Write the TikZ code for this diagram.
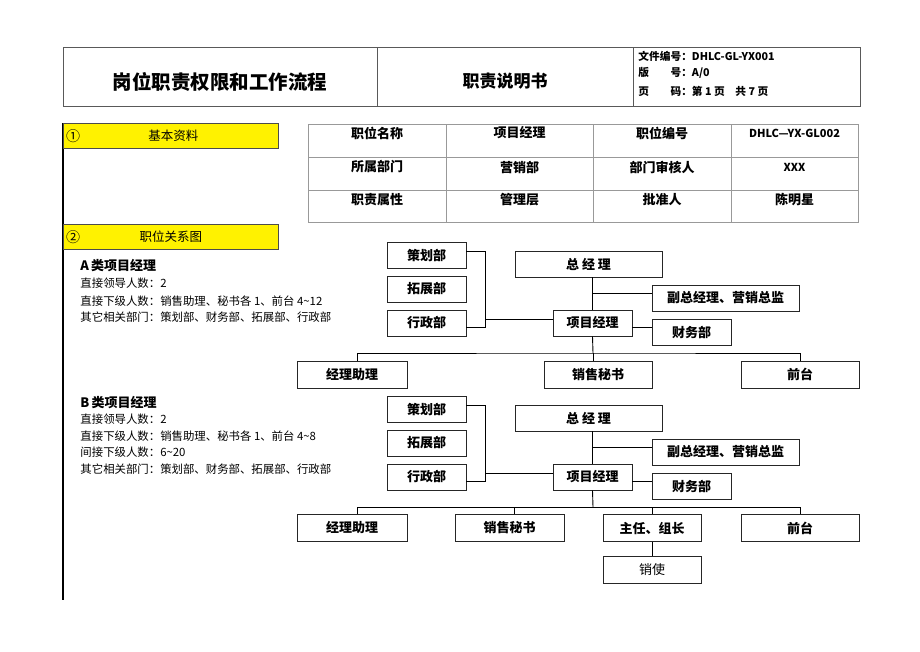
\documentclass[tikz,border=0pt]{standalone}
\usepackage{fontspec}
\setmainfont{Noto Sans CJK SC}
\newcommand\colorFrame{black!65}
\newcommand\colorGrid{black!40}
\newcommand\colorBox{black!85}
\newcommand\colorBar{yellow}
\newcommand\drawUpper[2]{
	\begin{scope}[shift={(0,#2)}]
		\node[orgbox, minimum width=79pt] (ce#1) at (426.5,255) {策划部};
		\node[orgbox, minimum width=79pt] (tz#1) at (426.5,289) {拓展部};
		\node[orgbox, minimum width=79pt] (xz#1) at (426.5,323) {行政部};
		\node[orgbox, minimum width=147pt] (zjl#1) at (588.5,264) {总 经 理};
		\node[orgbox, minimum width=147pt] (fz#1) at (725.5,298) {副总经理、营销总监};
		\node[orgbox, minimum width=79pt] (xm#1) at (592.5,323) {项目经理};
		\node[orgbox, minimum width=79pt] (cw#1) at (691.5,332) {财务部};
		\coordinate (j#1) at (485,319);
		\coordinate (bus#1) at (593,353);
		\draw ([yshift=4pt]ce#1.east) -| ([yshift=-8pt]j#1) -- ([yshift=-4pt]xz#1.east);
		\draw (j#1) -- (j#1 -| xm#1.west);
		\draw (xm#1.north) -- (xm#1.north |- zjl#1.south);
		\coordinate (f#1) at ([yshift=5pt]fz#1.west);
		\draw (f#1) -- (f#1 -| xm#1.north);
		\coordinate (k#1) at ([yshift=-4pt]xm#1.east);
		\draw (k#1) -- (k#1 -| cw#1.west);
		\draw (xm#1.south) -- (bus#1);
	\end{scope}
}
\tikzset{
	orgbox/.style={draw=\colorBox, minimum height=26pt, inner sep=0pt, font=\fontsize{13}{15}\selectfont\bfseries},
	lowbox/.style={orgbox, minimum height=27pt},
	bar/.style={draw=black!70, fill=\colorBar, minimum width=215pt, minimum height=25pt, inner sep=0pt, font=\fontsize{12.5}{14}\selectfont},
	cell/.style={inner sep=0pt, font=\fontsize{13}{15}\selectfont\bfseries},
	meta/.style={anchor=west, inner sep=0pt, font=\fontsize{10.7}{12}\selectfont\bfseries},
	head/.style={anchor=west, inner sep=0pt, font=\fontsize{13}{15}\selectfont\bfseries},
	info/.style={anchor=west, inner sep=0pt, font=\fontsize{11.4}{13}\selectfont}
}
\begin{document}
\begin{tikzpicture}[x=1pt, y=-1pt, line width=0.9pt]
	\useasboundingbox (0,0) rectangle (920,651);

	\draw[color=\colorFrame] (63,47) rectangle (860,106);
	\draw[color=\colorFrame] (377,47) to (377,106);
	\draw[color=\colorFrame] (633,47) to (633,106);
	\node[font=\fontsize{19.5}{22}\selectfont\bfseries] (title) at (220,82) {岗位职责权限和工作流程};
	\node[font=\fontsize{17}{20}\selectfont\bfseries] (doc) at (505,81) {职责说明书};
	\foreach \i/\y/\t in {1/56/{文件编号：DHLC-GL-YX001}, 2/73/{版　　号：A/0}, 3/91/{页　　码：第 1 页　共 7 页}}{
		\node[meta] (meta\i) at (638,\y) {\t};
	}

	\draw[line width=2.2pt] (63,123) to (63,600);
	\node[bar, anchor=north west] (bar1) at (63,123) {\hspace*{5pt}基本资料};
	\node[bar, anchor=north west] (bar2) at (63,224) {职位关系图};
	\node[font=\fontsize{14}{15}\selectfont] (no1) at (bar1.west -| 73,0) {①};
	\node[font=\fontsize{14}{15}\selectfont] (no2) at (bar2.west -| 73,0) {②};

	\draw[color=\colorGrid] (308,124) rectangle (858,222);
	\foreach \x in {446,593,731}
		\draw[color=\colorGrid] (\x,124) to (\x,222);
	\foreach \y in {157,190}
		\draw[color=\colorGrid] (308,\y) to (858,\y);
	\foreach \r/\y/\a/\b/\c/\d in {1/133/职位名称/项目经理/职位编号/{\fontsize{11}{13}\selectfont DHLC—YX-GL002}, 2/167/所属部门/营销部/部门审核人/{\fontsize{11}{13}\selectfont XXX}, 3/200/职责属性/管理层/批准人/陈明星}{
		\node[cell] (c\r a) at (377,\y) {\a};
		\node[cell] (c\r b) at (519.5,\y) {\b};
		\node[cell] (c\r c) at (662,\y) {\c};
		\node[cell] (c\r d) at (794.5,\y) {\d};
	}

	\node[head] (headA) at (80,266) {A\,类项目经理};
	\foreach \i/\y/\t in {1/283/直接领导人数：2, 2/301/直接下级人数：销售助理、秘书各 1、前台 4\textasciitilde 12, 3/317/其它相关部门：策划部、财务部、拓展部、行政部}{
		\node[info] (infoA\i) at (80,\y) {\t};
	}
	\node[head] (headB) at (80,403) {B\,类项目经理};
	\foreach \i/\y/\t in {1/419/直接领导人数：2, 2/436/直接下级人数：销售助理、秘书各 1、前台 4\textasciitilde 8, 3/452/间接下级人数：6\textasciitilde 20, 4/469/其它相关部门：策划部、财务部、拓展部、行政部}{
		\node[info] (infoB\i) at (80,\y) {\t};
	}

	\drawUpper{A}{0}
	\node[lowbox, minimum width=110pt] (zlA) at (352,374.5) {经理助理};
	\node[lowbox, minimum width=108pt] (msA) at (598,374.5) {销售秘书};
	\node[lowbox, minimum width=118pt] (qtA) at (800,374.5) {前台};
	\draw ([xshift=5pt]zlA.north) |- (busA) -| (qtA.north);
	\draw (busA) -- (busA |- msA.north);

	\drawUpper{B}{154}
	\node[lowbox, minimum width=110pt] (zlB) at (352,528) {经理助理};
	\node[lowbox, minimum width=109pt] (msB) at (509.5,528) {销售秘书};
	\node[lowbox, minimum width=98pt] (zrB) at (652,528) {主任、组长};
	\node[lowbox, minimum width=118pt] (qtB) at (800,528) {前台};
	\node[lowbox, minimum width=98pt, font=\fontsize{13}{15}\selectfont] (xsB) at (652,570) {销使};
	\draw ([xshift=5pt]zlB.north) |- (busB) -| (qtB.north);
	\draw ([xshift=4.5pt]msB.north) -- ([xshift=4.5pt]msB.north |- busB);
	\draw (zrB.north) -- (zrB.north |- busB);
	\draw (zrB.south) -- (xsB.north);
\end{tikzpicture}
\end{document}
